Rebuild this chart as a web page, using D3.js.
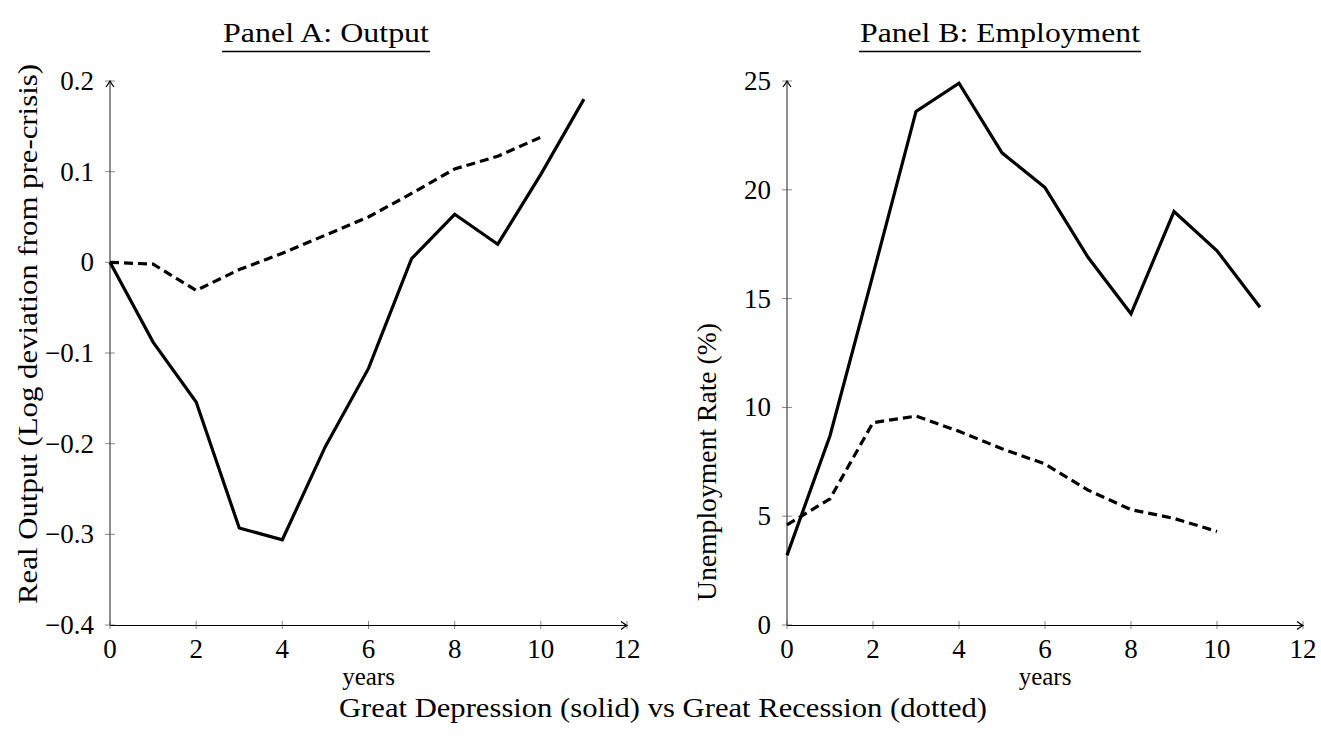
<!DOCTYPE html>
<html>
<head>
<meta charset="utf-8">
<script src="https://cdn.jsdelivr.net/npm/d3@7"></script>
<style>
  body { margin: 0; background: #fff; }
  svg text { font-family: "Liberation Serif", "DejaVu Serif", serif; fill: #000; }
</style>
</head>
<body>
<svg id="chart" width="1321" height="745"></svg>
<script>
"use strict";

// years since the start of each crisis
var years = [0, 1, 2, 3, 4, 5, 6, 7, 8, 9, 10, 11];
var xTicks = [0, 2, 4, 6, 8, 10, 12];

// Panel A: real output, log deviation from pre-crisis level
var outputDepression = [0, -0.088, -0.154, -0.293, -0.306, -0.203, -0.117, 0.004, 0.053, 0.020, 0.097, 0.180];
var outputRecession = [0, -0.002, -0.031, -0.008, 0.010, 0.030, 0.050, 0.076, 0.103, 0.117, 0.138];
var outputTicks = [-0.4, -0.3, -0.2, -0.1, 0, 0.1, 0.2];

// Panel B: unemployment rate (%)
var unempDepression = [3.2, 8.7, 16.1, 23.6, 24.9, 21.7, 20.1, 16.9, 14.3, 19.0, 17.2, 14.6];
var unempRecession = [4.6, 5.8, 9.3, 9.6, 8.9, 8.1, 7.4, 6.2, 5.3, 4.9, 4.3];
var unempTicks = [0, 5, 10, 15, 20, 25];

var svg = d3.select('#chart');

// minus sign like the TeX output
function fmtTick(v) {
  var s = (Math.abs(v) < 1e-9) ? '0' : String(+v.toFixed(2));
  return s.replace('-', '\u2212');
}

function arrowHead(g, x, y, dir) {
  // small open "->" tip, dir = 'right' or 'up'
  var p = dir == 'right'
    ? 'M' + (x - 6) + ',' + (y - 4) + ' Q' + (x - 2) + ',' + (y - 1) + ' ' + x + ',' + y +
      ' Q' + (x - 2) + ',' + (y + 1) + ' ' + (x - 6) + ',' + (y + 4)
    : 'M' + (x - 4) + ',' + (y + 6) + ' Q' + (x - 1) + ',' + (y + 2) + ' ' + x + ',' + y +
      ' Q' + (x + 1) + ',' + (y + 2) + ' ' + (x + 4) + ',' + (y + 6);
  g.append('path').attr('d', p).attr('fill', 'none').attr('stroke', '#000').attr('stroke-width', 1.2);
}

// text stretched to the width the TeX font takes
function wideText(parent, str, len) {
  return parent.append('text')
    .attr('textLength', len)
    .attr('lengthAdjust', 'spacingAndGlyphs')
    .text(str);
}

// draw one panel; opts holds geometry, data and texts
function drawPanel(opts) {
  var g = svg.append('g');
  var x = d3.scaleLinear().domain([0, 12]).range([opts.x0, opts.x1]);
  var y = d3.scaleLinear().domain(opts.yDomain).range([opts.yBottom, opts.yTop]);

  // ticks cross the axis lines
  g.selectAll('line.xtick').data(xTicks).enter().append('line')
    .attr('class', 'xtick')
    .attr('x1', d => x(d)).attr('x2', d => x(d))
    .attr('y1', y.range()[0] - 4).attr('y2', y.range()[0] + 4)
    .attr('stroke', '#888').attr('stroke-width', 1);
  g.selectAll('line.ytick').data(opts.yTicks).enter().append('line')
    .attr('class', 'ytick')
    .attr('x1', opts.x0 - 5).attr('x2', opts.x0 + 5)
    .attr('y1', d => y(d)).attr('y2', d => y(d))
    .attr('stroke', '#888').attr('stroke-width', 1);

  // axis lines with arrows
  g.append('line')
    .attr('x1', opts.x0).attr('x2', opts.x1)
    .attr('y1', opts.yBottom + 0.5).attr('y2', opts.yBottom + 0.5)
    .attr('stroke', '#000').attr('stroke-width', 1);
  arrowHead(g, opts.x1, opts.yBottom + 0.5, 'right');
  g.append('line')
    .attr('x1', opts.x0).attr('x2', opts.x0)
    .attr('y1', opts.yBottom + 0.5).attr('y2', opts.yTop)
    .attr('stroke', '#444').attr('stroke-width', 1.2);
  arrowHead(g, opts.x0, opts.yTop, 'up');

  // tick labels
  g.selectAll('text.xlab').data(xTicks).enter().append('text')
    .attr('class', 'xlab')
    .attr('x', d => x(d)).attr('y', opts.yBottom + 33)
    .attr('text-anchor', 'middle').attr('font-size', 27)
    .text(d => d);
  g.selectAll('text.ylab').data(opts.yTicks).enter().append('text')
    .attr('class', 'ylab')
    .attr('x', opts.x0 - 16).attr('y', d => y(d) + 9)
    .attr('text-anchor', 'end').attr('font-size', 27)
    .text(fmtTick);

  // the two series
  var line = d3.line().x((d, i) => x(years[i])).y(d => y(d));
  g.append('path').datum(opts.solid)
    .attr('d', line).attr('fill', 'none')
    .attr('stroke', '#000').attr('stroke-width', 3.2).attr('stroke-linejoin', 'miter');
  g.append('path').datum(opts.dashed)
    .attr('d', line).attr('fill', 'none')
    .attr('stroke', '#000').attr('stroke-width', 3.2)
    .attr('stroke-dasharray', '9,5');

  // axis titles
  g.append('text')
    .attr('x', (opts.x0 + opts.x1) / 2).attr('y', opts.yBottom + 60)
    .attr('text-anchor', 'middle').attr('font-size', 25)
    .text('years');
  wideText(g, opts.ylabel, opts.ylabelLen)
    .attr('x', -opts.ylabelLen / 2).attr('y', 0)
    .attr('transform', 'translate(' + opts.ylabelX + ',' + opts.ylabelY + ') rotate(-90)')
    .attr('font-size', 27);

  // underlined panel title
  wideText(g, opts.title, opts.titleLen)
    .attr('x', opts.titleX - opts.titleLen / 2).attr('y', 42)
    .attr('font-size', 28);
  g.append('line')
    .attr('x1', opts.titleX - opts.titleLen / 2 - 1).attr('x2', opts.titleX + opts.titleLen / 2 + 1)
    .attr('y1', 51.5).attr('y2', 51.5)
    .attr('stroke', '#000').attr('stroke-width', 1.3);
}

drawPanel({
  x0: 110, x1: 627, yTop: 81, yBottom: 625,
  yDomain: [-0.4, 0.2], yTicks: outputTicks,
  solid: outputDepression, dashed: outputRecession,
  ylabel: 'Real Output (Log deviation from pre-crisis)', ylabelX: 37, ylabelY: 334, ylabelLen: 540,
  title: 'Panel A: Output', titleX: 326, titleLen: 206
});

drawPanel({
  x0: 787, x1: 1303, yTop: 81, yBottom: 625,
  yDomain: [0, 25], yTicks: unempTicks,
  solid: unempDepression, dashed: unempRecession,
  ylabel: 'Unemployment Rate (%)', ylabelX: 716, ylabelY: 462, ylabelLen: 278,
  title: 'Panel B: Employment', titleX: 1000, titleLen: 280
});

wideText(svg, 'Great Depression (solid) vs Great Recession (dotted)', 648)
  .attr('x', 663 - 324).attr('y', 717)
  .attr('font-size', 27);
</script>
</body>
</html>
